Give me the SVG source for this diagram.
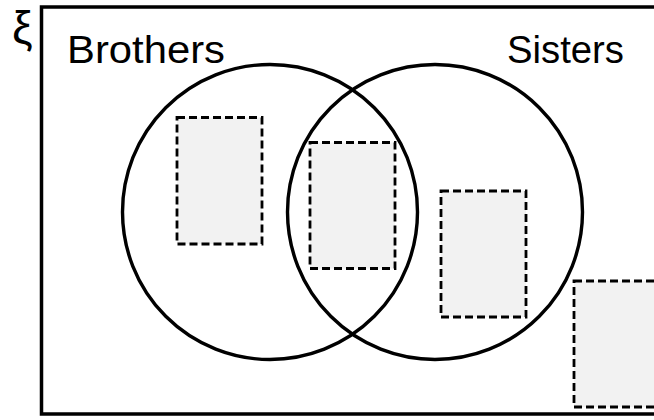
<svg xmlns="http://www.w3.org/2000/svg" width="654" height="420" viewBox="0 0 654 420">
<style>
.lbl{font-family:"Liberation Sans",Arial,sans-serif;fill:#000}
.set{fill:none;stroke:#000;stroke-width:3.4}
.el{fill:#f2f2f2;stroke:#000;stroke-width:2.8;stroke-dasharray:8 4}
</style>
<rect width="654" height="420" fill="#fff"/>
<g id="universe">
<rect x="41.5" y="7" width="640" height="407" fill="none" stroke="#000" stroke-width="3.5"/>
<text class="lbl" x="12" y="44" font-size="46">ξ</text>
</g>
<g id="elements">
<rect id="e1" class="el" x="177" y="117.5" width="85" height="126.5"/>
<rect id="e2" class="el" x="310" y="142.5" width="85" height="126"/>
<rect id="e3" class="el" x="441" y="191" width="85" height="126"/>
<rect id="e4" class="el" x="574" y="281" width="85" height="126"/>
</g>
<g id="brothers">
<circle class="set" cx="270" cy="212" r="147.5"/>
<text class="lbl" x="67" y="63" font-size="38" textLength="158" lengthAdjust="spacingAndGlyphs">Brothers</text>
</g>
<g id="sisters">
<circle class="set" cx="435" cy="212" r="147.5"/>
<text class="lbl" x="507" y="63" font-size="38" textLength="117" lengthAdjust="spacingAndGlyphs">Sisters</text>
</g>
<g id="connectors"></g>
</svg>
